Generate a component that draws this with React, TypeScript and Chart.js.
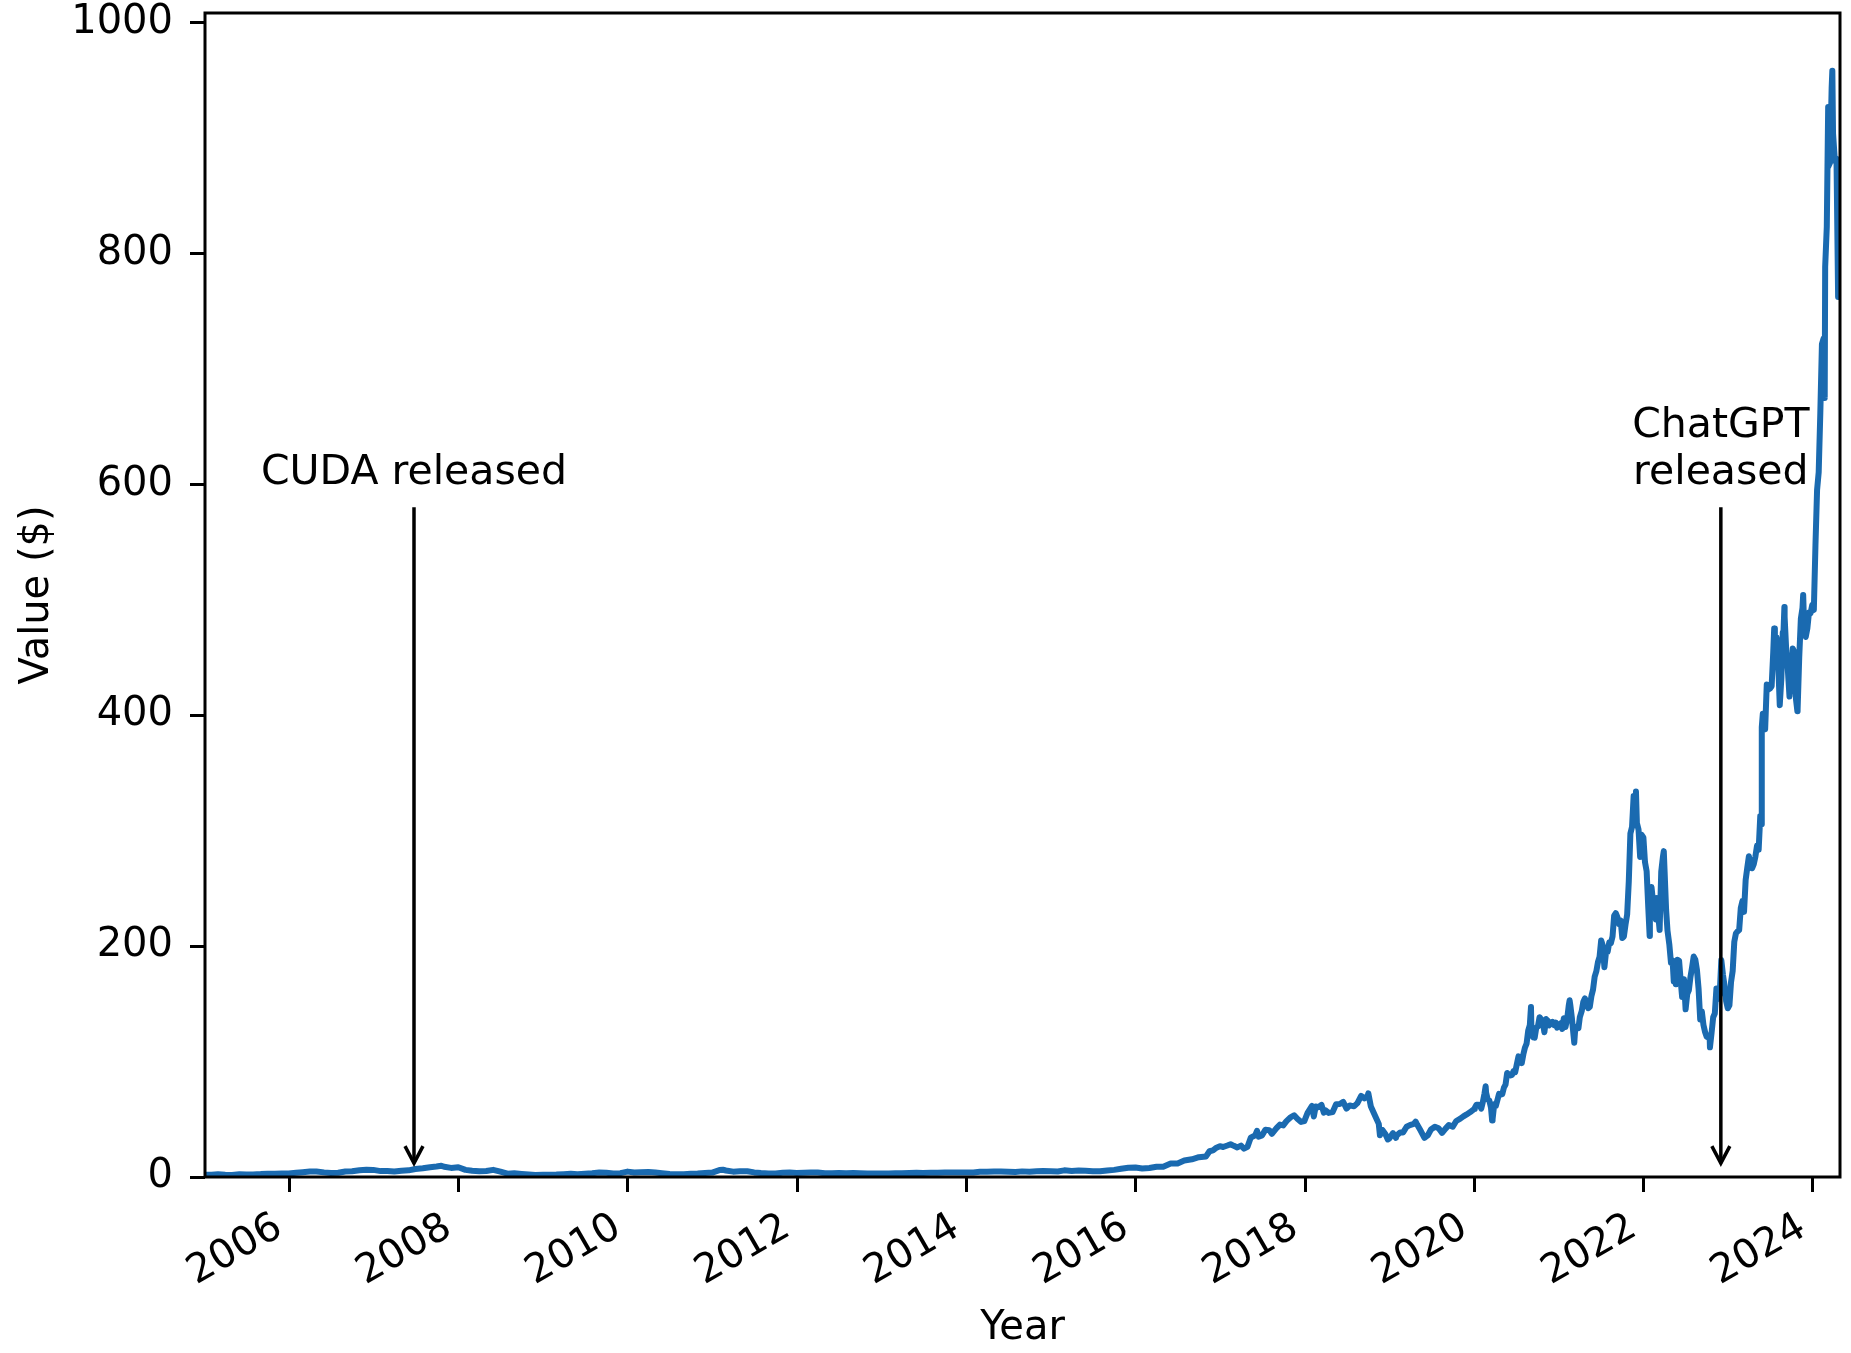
import React, { useEffect, useRef } from 'react';
import { Chart, registerables } from 'chart.js';

Chart.register(...registerables);

// ---------- data (close price, $) ----------
const prices2005to2015: [string, number][] = [
  ['2005-01-03', 1.95], ['2005-01-31', 1.92], ['2005-02-28', 2.35], ['2005-03-31', 1.98], ['2005-04-29', 1.83], ['2005-05-31', 2.28],
  ['2005-06-30', 2.23], ['2005-07-29', 2.26], ['2005-08-31', 2.5], ['2005-09-30', 2.86], ['2005-10-31', 2.8], ['2005-11-30', 3.05], ['2005-12-30', 3.05],
  ['2006-01-31', 3.75], ['2006-02-28', 4.2], ['2006-03-31', 4.77], ['2006-04-28', 4.85], ['2006-05-31', 4.0], ['2006-06-30', 3.55],
  ['2006-07-31', 3.7], ['2006-08-31', 4.8], ['2006-09-29', 4.93], ['2006-10-31', 5.77], ['2006-11-30', 6.2], ['2006-12-29', 6.17],
  ['2007-01-31', 5.1], ['2007-02-28', 5.2], ['2007-03-30', 4.8], ['2007-04-30', 5.48], ['2007-05-31', 5.75], ['2007-06-29', 6.88],
  ['2007-07-31', 7.63], ['2007-08-31', 8.52], ['2007-09-28', 9.06], ['2007-10-19', 9.7], ['2007-10-31', 8.86], ['2007-11-30', 7.88], ['2007-12-31', 8.5],
  ['2008-01-31', 6.15], ['2008-02-29', 5.35], ['2008-03-31', 4.95], ['2008-04-30', 5.14], ['2008-05-30', 6.17], ['2008-06-30', 4.68],
  ['2008-07-31', 2.86], ['2008-08-29', 3.15], ['2008-09-30', 2.68], ['2008-10-31', 2.2], ['2008-11-28', 1.77], ['2008-12-31', 2.02],
  ['2009-01-30', 2.0], ['2009-02-27', 2.1], ['2009-03-31', 2.47], ['2009-04-30', 2.85], ['2009-05-29', 2.45], ['2009-06-30', 2.82],
  ['2009-07-31', 3.23], ['2009-08-31', 3.88], ['2009-09-30', 3.76], ['2009-10-30', 3.0], ['2009-11-30', 3.35], ['2009-12-31', 4.67],
  ['2010-01-29', 3.85], ['2010-02-26', 4.1], ['2010-03-31', 4.35], ['2010-04-30', 3.93], ['2010-05-28', 3.3], ['2010-06-30', 2.55],
  ['2010-07-30', 2.3], ['2010-08-31', 2.33], ['2010-09-30', 2.92], ['2010-10-29', 3.0], ['2010-11-30', 3.45], ['2010-12-31', 3.85],
  ['2011-01-31', 5.98], ['2011-02-15', 6.3], ['2011-02-28', 5.65], ['2011-03-31', 4.62], ['2011-04-29', 5.0], ['2011-05-31', 5.0],
  ['2011-06-30', 3.98], ['2011-07-29', 3.45], ['2011-08-31', 3.1], ['2011-09-30', 3.12], ['2011-10-31', 3.68], ['2011-11-30', 3.9], ['2011-12-30', 3.47],
  ['2012-01-31', 3.7], ['2012-02-29', 3.82], ['2012-03-30', 3.85], ['2012-04-30', 3.25], ['2012-05-31', 3.2], ['2012-06-29', 3.45],
  ['2012-07-31', 3.35], ['2012-08-31', 3.52], ['2012-09-28', 3.33], ['2012-10-31', 3.0], ['2012-11-30', 3.0], ['2012-12-31', 3.06],
  ['2013-01-31', 3.07], ['2013-02-28', 3.15], ['2013-03-28', 3.2], ['2013-04-30', 3.45], ['2013-05-31', 3.6], ['2013-06-28', 3.5],
  ['2013-07-31', 3.68], ['2013-08-30', 3.7], ['2013-09-30', 3.89], ['2013-10-31', 3.8], ['2013-11-29', 3.9], ['2013-12-31', 4.0],
  ['2014-01-31', 3.92], ['2014-02-28', 4.48], ['2014-03-31', 4.48], ['2014-04-30', 4.8], ['2014-05-30', 4.75], ['2014-06-30', 4.63],
  ['2014-07-31', 4.38], ['2014-08-29', 4.87], ['2014-09-30', 4.61], ['2014-10-31', 4.88], ['2014-11-28', 5.15], ['2014-12-31', 5.01],
  ['2015-01-30', 4.8], ['2015-02-27', 5.75], ['2015-03-31', 5.23], ['2015-04-30', 5.55], ['2015-05-29', 5.5], ['2015-06-30', 5.03],
  ['2015-07-31', 4.99], ['2015-08-31', 5.62], ['2015-09-30', 6.16], ['2015-10-30', 7.1], ['2015-11-30', 7.93], ['2015-12-31', 8.24],
];

const prices2016to2019: [string, number][] = [
  ['2016-01-29', 7.33], ['2016-02-29', 7.85], ['2016-03-31', 8.91], ['2016-04-29', 8.88], ['2016-05-31', 11.69], ['2016-06-30', 11.75],
  ['2016-07-29', 14.27], ['2016-08-31', 15.33], ['2016-09-30', 17.13], ['2016-10-31', 17.8], ['2016-11-15', 22.3], ['2016-11-30', 23.05],
  ['2016-12-15', 25.4], ['2016-12-30', 26.68],
  ['2017-01-13', 26.0], ['2017-01-31', 27.3], ['2017-02-14', 28.4], ['2017-02-28', 27.0], ['2017-03-15', 25.6], ['2017-03-31', 27.2],
  ['2017-04-13', 24.6], ['2017-04-28', 26.1], ['2017-05-12', 34.1], ['2017-05-31', 36.1], ['2017-06-08', 40.0], ['2017-06-15', 35.0],
  ['2017-06-30', 36.1], ['2017-07-14', 41.0], ['2017-07-31', 40.6], ['2017-08-11', 37.4], ['2017-08-31', 42.3], ['2017-09-15', 45.4],
  ['2017-09-29', 44.7], ['2017-10-13', 48.4], ['2017-10-31', 51.7], ['2017-11-15', 53.5], ['2017-11-30', 50.2], ['2017-12-15', 47.7], ['2017-12-29', 48.4],
  ['2018-01-12', 55.5], ['2018-01-31', 61.5], ['2018-02-08', 52.4], ['2018-02-16', 61.0], ['2018-02-28', 60.5], ['2018-03-13', 62.5],
  ['2018-03-23', 55.7], ['2018-03-29', 57.9], ['2018-04-13', 55.5], ['2018-04-30', 56.2], ['2018-05-15', 63.0], ['2018-05-31', 63.2],
  ['2018-06-15', 65.0], ['2018-06-29', 59.2], ['2018-07-13', 62.0], ['2018-07-31', 61.2], ['2018-08-15', 64.0], ['2018-08-31', 70.2],
  ['2018-09-14', 68.0], ['2018-09-28', 70.3], ['2018-10-01', 72.4], ['2018-10-12', 61.0], ['2018-10-31', 52.7], ['2018-11-15', 46.0],
  ['2018-11-20', 36.2], ['2018-11-30', 40.9], ['2018-12-14', 37.0], ['2018-12-24', 32.5], ['2018-12-31', 33.4],
  ['2019-01-15', 38.0], ['2019-01-28', 34.0], ['2019-01-31', 35.9], ['2019-02-15', 38.6], ['2019-02-28', 38.6], ['2019-03-15', 43.5],
  ['2019-03-29', 44.9], ['2019-04-15', 46.0], ['2019-04-23', 48.0], ['2019-04-30', 45.2], ['2019-05-15', 40.0], ['2019-05-31', 33.9],
  ['2019-06-14', 36.0], ['2019-06-28', 41.1], ['2019-07-15', 43.5], ['2019-07-31', 42.2], ['2019-08-15', 38.2], ['2019-08-30', 41.9],
  ['2019-09-13', 45.0], ['2019-09-30', 43.5], ['2019-10-15', 48.5], ['2019-10-31', 50.3], ['2019-11-15', 52.5], ['2019-11-29', 54.2],
  ['2019-12-13', 56.0], ['2019-12-31', 58.8],
];

const prices2020to2021: [string, number][] = [
  ['2020-01-03', 59.8], ['2020-01-10', 62.5], ['2020-01-17', 62.5], ['2020-01-24', 62.4], ['2020-01-31', 59.2], ['2020-02-07', 65.2],
  ['2020-02-14', 72.3], ['2020-02-19', 78.6], ['2020-02-21', 73.0], ['2020-02-28', 67.1], ['2020-03-06', 66.2], ['2020-03-13', 60.1],
  ['2020-03-18', 49.0], ['2020-03-20', 50.1], ['2020-03-27', 62.9], ['2020-04-03', 61.6], ['2020-04-10', 66.7], ['2020-04-17', 72.0],
  ['2020-04-24', 71.4], ['2020-05-01', 71.8], ['2020-05-08', 77.4], ['2020-05-15', 80.0], ['2020-05-22', 90.1], ['2020-05-29', 88.8],
  ['2020-06-05', 88.0], ['2020-06-12', 88.5], ['2020-06-19', 91.8], ['2020-06-26', 90.9], ['2020-07-02', 96.9], ['2020-07-10', 104.5],
  ['2020-07-17', 101.4], ['2020-07-24', 98.6], ['2020-07-31', 106.2], ['2020-08-07', 112.1], ['2020-08-14', 115.5], ['2020-08-21', 126.8],
  ['2020-08-28', 131.6], ['2020-09-02', 147.2], ['2020-09-04', 126.4], ['2020-09-11', 121.0], ['2020-09-18', 120.6], ['2020-09-25', 129.4],
  ['2020-10-02', 130.3], ['2020-10-09', 138.4], ['2020-10-16', 136.6], ['2020-10-23', 134.3], ['2020-10-30', 125.4], ['2020-11-06', 136.8],
  ['2020-11-13', 135.4], ['2020-11-20', 131.3], ['2020-11-27', 133.9], ['2020-12-04', 134.3], ['2020-12-11', 131.6], ['2020-12-18', 133.7],
  ['2020-12-24', 129.4], ['2020-12-31', 130.5],
  ['2021-01-08', 133.1], ['2021-01-15', 128.2], ['2021-01-22', 137.5], ['2021-01-29', 129.9], ['2021-02-05', 136.4], ['2021-02-12', 148.2],
  ['2021-02-16', 153.0], ['2021-02-19', 148.7], ['2021-02-26', 137.1], ['2021-03-05', 122.4], ['2021-03-08', 116.3], ['2021-03-12', 127.9],
  ['2021-03-19', 130.2], ['2021-03-26', 128.9], ['2021-04-01', 138.4], ['2021-04-09', 143.6], ['2021-04-16', 151.8], ['2021-04-23', 154.7],
  ['2021-04-30', 150.1], ['2021-05-07', 146.2], ['2021-05-14', 147.5], ['2021-05-21', 156.7], ['2021-05-28', 162.4], ['2021-06-04', 173.5],
  ['2021-06-11', 178.0], ['2021-06-18', 186.0], ['2021-06-25', 190.7], ['2021-07-02', 204.9], ['2021-07-09', 200.4], ['2021-07-16', 181.6],
  ['2021-07-23', 195.0], ['2021-07-30', 195.0], ['2021-08-06', 203.3], ['2021-08-13', 202.6], ['2021-08-20', 208.2], ['2021-08-27', 226.4],
  ['2021-09-03', 228.5], ['2021-09-10', 225.1], ['2021-09-17', 219.0], ['2021-09-24', 222.2], ['2021-10-01', 207.0], ['2021-10-08', 208.3],
  ['2021-10-15', 218.6], ['2021-10-22', 227.3], ['2021-10-29', 255.7], ['2021-11-05', 297.5], ['2021-11-12', 303.0], ['2021-11-19', 329.9],
  ['2021-11-26', 315.6], ['2021-11-29', 333.8], ['2021-12-03', 306.5], ['2021-12-10', 301.0], ['2021-12-17', 277.2], ['2021-12-23', 296.4],
  ['2021-12-31', 294.1],
];

const prices2022to2024: [string, number][] = [
  ['2022-01-07', 272.5], ['2022-01-14', 264.8], ['2022-01-21', 233.7], ['2022-01-27', 208.8], ['2022-01-28', 228.4], ['2022-02-04', 251.1],
  ['2022-02-11', 237.5], ['2022-02-18', 236.4], ['2022-02-23', 223.0], ['2022-02-25', 241.6], ['2022-03-04', 229.6], ['2022-03-11', 214.0],
  ['2022-03-18', 264.5], ['2022-03-25', 276.9], ['2022-03-29', 282.2], ['2022-04-01', 267.1], ['2022-04-08', 231.2], ['2022-04-14', 213.3],
  ['2022-04-22', 201.2], ['2022-04-29', 185.5], ['2022-05-06', 187.5], ['2022-05-11', 169.4], ['2022-05-13', 186.8], ['2022-05-20', 166.9],
  ['2022-05-27', 188.1], ['2022-06-03', 187.2], ['2022-06-10', 169.8], ['2022-06-16', 155.9], ['2022-06-17', 158.8], ['2022-06-24', 171.3],
  ['2022-07-01', 145.2], ['2022-07-08', 158.4], ['2022-07-15', 161.6], ['2022-07-22', 173.2], ['2022-07-29', 181.6], ['2022-08-05', 190.9],
  ['2022-08-12', 188.2], ['2022-08-19', 179.3], ['2022-08-26', 163.0], ['2022-09-02', 136.5], ['2022-09-09', 143.4], ['2022-09-16', 131.7],
  ['2022-09-23', 125.6], ['2022-09-30', 121.4], ['2022-10-07', 120.8], ['2022-10-13', 119.6], ['2022-10-14', 112.3], ['2022-10-21', 124.7],
  ['2022-10-28', 138.3], ['2022-11-04', 141.6], ['2022-11-11', 163.3], ['2022-11-18', 154.1], ['2022-11-25', 158.0], ['2022-12-02', 187.9],
  ['2022-12-09', 175.3], ['2022-12-16', 165.7], ['2022-12-23', 152.1], ['2022-12-30', 146.1],
  ['2023-01-06', 148.6], ['2023-01-13', 168.9], ['2023-01-20', 178.4], ['2023-01-27', 203.7], ['2023-02-03', 211.0], ['2023-02-10', 212.7],
  ['2023-02-17', 213.9], ['2023-02-24', 232.9], ['2023-03-03', 238.9], ['2023-03-10', 229.6], ['2023-03-17', 257.3], ['2023-03-24', 267.8],
  ['2023-03-31', 277.8], ['2023-04-07', 270.4], ['2023-04-14', 267.4], ['2023-04-21', 271.0], ['2023-04-28', 277.5], ['2023-05-05', 287.0],
  ['2023-05-12', 283.4], ['2023-05-19', 312.6], ['2023-05-24', 305.4], ['2023-05-25', 379.8], ['2023-05-26', 389.5], ['2023-05-30', 401.1],
  ['2023-06-02', 393.3], ['2023-06-09', 387.7], ['2023-06-16', 426.5], ['2023-06-23', 422.1], ['2023-06-30', 423.0], ['2023-07-07', 425.0],
  ['2023-07-14', 454.7], ['2023-07-18', 474.9], ['2023-07-21', 443.1], ['2023-07-28', 467.5], ['2023-08-04', 446.8], ['2023-08-11', 408.6],
  ['2023-08-18', 432.0], ['2023-08-24', 471.6], ['2023-08-25', 460.2], ['2023-08-31', 493.6], ['2023-09-01', 485.1], ['2023-09-08', 455.7],
  ['2023-09-15', 439.0], ['2023-09-22', 416.1], ['2023-09-29', 435.0], ['2023-10-06', 457.6], ['2023-10-13', 454.6], ['2023-10-20', 413.9],
  ['2023-10-26', 403.3], ['2023-10-27', 405.0], ['2023-11-03', 450.1], ['2023-11-10', 483.4], ['2023-11-17', 492.9], ['2023-11-20', 504.1],
  ['2023-11-24', 477.8], ['2023-12-01', 467.7], ['2023-12-08', 475.1], ['2023-12-15', 488.9], ['2023-12-22', 488.3], ['2023-12-29', 495.2],
  ['2024-01-05', 491.0], ['2024-01-12', 547.1], ['2024-01-19', 594.9], ['2024-01-26', 610.3], ['2024-02-02', 661.6], ['2024-02-09', 721.3],
  ['2024-02-16', 726.1], ['2024-02-21', 674.7], ['2024-02-23', 788.2], ['2024-03-01', 822.8], ['2024-03-07', 926.7], ['2024-03-08', 875.3],
  ['2024-03-15', 878.4], ['2024-03-22', 942.9], ['2024-03-25', 958.0], ['2024-03-28', 903.6], ['2024-04-05', 880.1], ['2024-04-12', 881.9],
  ['2024-04-19', 762.0], ['2024-04-22', 795.2], ['2024-04-24', 796.8], ['2024-04-26', 877.4],
];

const xTickYears = [2006, 2008, 2010, 2012, 2014, 2016, 2018, 2020, 2022, 2024];
const yTickValues = [0, 200, 400, 600, 800, 1000];
const xAxisRange = [2005.005, 2024.32];
const yAxisRange = [0, 1008];

const xAxisTitle = 'Year';
const yAxisTitle = 'Value ($)';

const events: { date: string; lines: string[] }[] = [
  { date: '2007-06-23', lines: ['CUDA released'] },
  { date: '2022-11-30', lines: ['ChatGPT', 'released'] },
];
const eventTextBaselineValue = 600;
const eventArrowStartValue = 580;
const eventArrowTipValue = 12;

// ---------- helpers ----------
function toDecimalYear(date: string): number {
  const [y, m, d] = date.split('-').map(Number);
  const start = Date.UTC(y, 0, 1);
  const end = Date.UTC(y + 1, 0, 1);
  return y + (Date.UTC(y, m - 1, d) - start) / (end - start);
}

const FONT = 'DejaVu Sans';
const FONT_SIZE = 40;
const NOTE_FONT_SIZE = 41;
const LINE_COLOR = '#1a6ab0';

const framePlugin = {
  id: 'frameAndEvents',
  afterDatasetsDraw(chart: any) {
    const { ctx, chartArea: a, scales } = chart;
    const xs = scales.x;
    const ys = scales.y;
    ctx.save();
    // spines
    ctx.strokeStyle = '#000';
    ctx.lineWidth = 3;
    ctx.strokeRect(a.left, a.top, a.right - a.left, a.bottom - a.top);

    // event annotations
    ctx.fillStyle = '#000';
    ctx.font = `${NOTE_FONT_SIZE}px "${FONT}"`;
    ctx.textAlign = 'center';
    ctx.textBaseline = 'alphabetic';
    const lineH = 47;
    events.forEach((ev) => {
      const px = xs.getPixelForValue(toDecimalYear(ev.date));
      const base = ys.getPixelForValue(eventTextBaselineValue);
      const n = ev.lines.length;
      ev.lines.forEach((ln, i) => {
        ctx.fillText(ln, px, base - (n - 1 - i) * lineH);
      });
      const y0 = ys.getPixelForValue(eventArrowStartValue);
      const y1 = ys.getPixelForValue(eventArrowTipValue);
      ctx.lineWidth = 3.5;
      ctx.lineCap = 'butt';
      ctx.beginPath();
      ctx.moveTo(px, y0);
      ctx.lineTo(px, y1);
      ctx.stroke();
      ctx.lineJoin = 'miter';
      ctx.beginPath();
      ctx.moveTo(px - 9, y1 - 17);
      ctx.lineTo(px, y1);
      ctx.lineTo(px + 9, y1 - 17);
      ctx.stroke();
    });
    ctx.restore();
  },
};

export default function App() {
  const ref = useRef<HTMLCanvasElement | null>(null);

  useEffect(() => {
    if (!ref.current) return;
    Chart.defaults.font.family = FONT;
    const all = [...prices2005to2015, ...prices2016to2019, ...prices2020to2021, ...prices2022to2024];
    const points = all.map(([d, v]) => ({ x: toDecimalYear(d), y: v }));

    const chart = new Chart(ref.current, {
      type: 'line',
      data: {
        datasets: [
          {
            data: points,
            borderColor: LINE_COLOR,
            borderWidth: 6,
            pointRadius: 0,
            tension: 0,
            fill: false,
            borderJoinStyle: 'round',
            borderCapStyle: 'round',
          },
        ],
      },
      options: {
        responsive: false,
        animation: false,
        devicePixelRatio: 1,
        layout: { padding: { top: 13, right: 11, bottom: 0, left: 0 } },
        plugins: { legend: { display: false }, tooltip: { enabled: false } },
        scales: {
          x: {
            type: 'linear',
            min: xAxisRange[0],
            max: xAxisRange[1],
            afterBuildTicks: (s: any) => {
              s.ticks = xTickYears.map((v) => ({ value: v }));
            },
            afterFit: (s: any) => {
              s.height = 176;
              s.paddingLeft = 0;
              s.paddingRight = 0;
            },
            ticks: {
              autoSkip: false,
              minRotation: 30,
              maxRotation: 30,
              padding: 12,
              labelOffset: -10,
              color: '#000',
              font: { size: FONT_SIZE, family: FONT },
              callback: (v: any) => String(v),
            },
            grid: {
              display: true,
              drawOnChartArea: false,
              drawTicks: true,
              tickLength: 15,
              tickWidth: 3,
              tickColor: '#000',
            },
            border: { display: false },
            title: {
              display: true,
              text: xAxisTitle,
              color: '#000',
              font: { size: FONT_SIZE, family: FONT },
              padding: { top: 0, bottom: 0 },
            },
          },
          y: {
            type: 'linear',
            min: yAxisRange[0],
            max: yAxisRange[1],
            afterBuildTicks: (s: any) => {
              s.ticks = yTickValues.map((v) => ({ value: v }));
            },
            afterFit: (s: any) => {
              s.width = 205;
              s.paddingTop = 0;
              s.paddingBottom = 0;
            },
            ticks: {
              padding: 17,
              color: '#000',
              font: { size: FONT_SIZE, family: FONT },
              callback: (v: any) => String(v),
            },
            grid: {
              display: true,
              drawOnChartArea: false,
              drawTicks: true,
              tickLength: 15,
              tickWidth: 3,
              tickColor: '#000',
            },
            border: { display: false },
            title: {
              display: true,
              text: yAxisTitle,
              color: '#000',
              font: { size: FONT_SIZE, family: FONT },
              padding: { top: 14, bottom: 0 },
            },
          },
        },
      },
      plugins: [framePlugin],
    } as any);

    return () => chart.destroy();
  }, []);

  return (
    <div style={{ position: 'absolute', left: 0, top: 0, width: 1851, height: 1353, background: '#fff' }}>
      <canvas ref={ref} width={1851} height={1353} style={{ display: 'block', width: 1851, height: 1353 }} />
    </div>
  );
}
